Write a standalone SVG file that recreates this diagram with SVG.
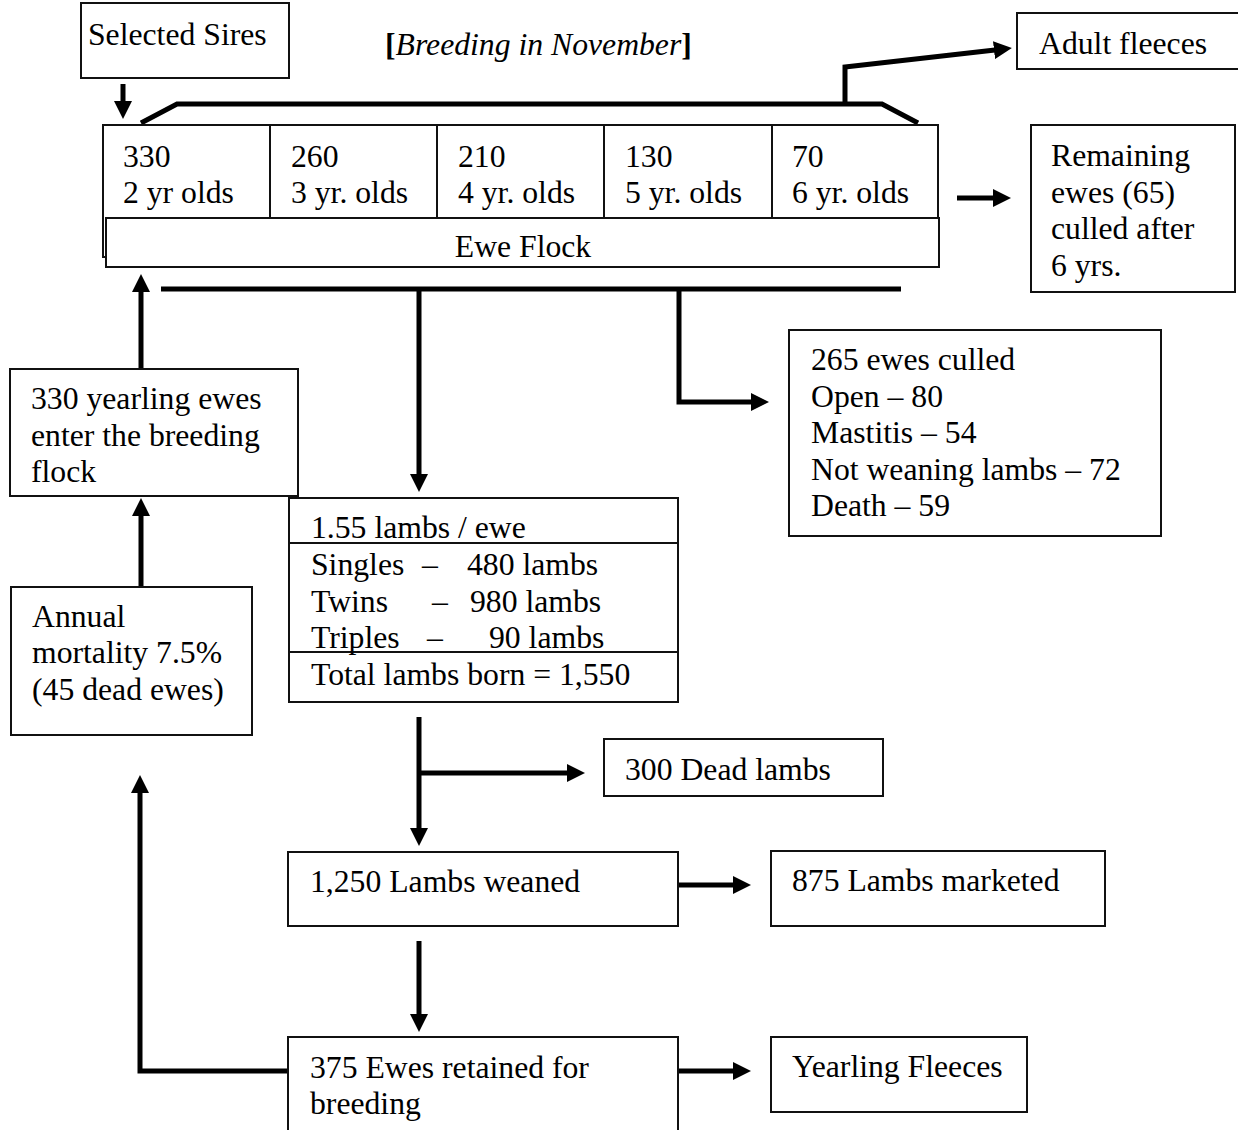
<svg xmlns="http://www.w3.org/2000/svg" width="1238" height="1130" viewBox="0 0 1238 1130">
<defs>
<marker id="ah" viewBox="0 0 18 18" markerWidth="18" markerHeight="18" markerUnits="userSpaceOnUse" refX="1" refY="9" orient="auto">
<path d="M0,0 L18,9 L0,18 Z" fill="#000"/>
</marker>
<style>
text{font-family:"Liberation Serif","Times New Roman",serif;font-size:31.7px;fill:#000}
.box{fill:#fff;stroke:#111;stroke-width:2}
.div{stroke:#111;stroke-width:2;fill:none}
.c{fill:none;stroke:#000;stroke-width:5}
.a{fill:none;stroke:#000;stroke-width:5;marker-end:url(#ah)}
</style>
</defs>
<rect width="1238" height="1130" fill="#fff"/>

<g id="connectors">
<polyline class="c" points="141,123 177,104 882,104 918,123"/>
<polyline class="a" points="845,104 845,67 995,50"/>
<line class="a" x1="123" y1="84" x2="123" y2="102"/>
<line class="a" x1="957" y1="198" x2="994" y2="198"/>
<line class="c" x1="161" y1="289" x2="901" y2="289"/>
<line class="a" x1="419" y1="289" x2="419" y2="475"/>
<polyline class="a" points="679,289 679,402 752,402"/>
<line class="a" x1="141" y1="369" x2="141" y2="291"/>
<line class="a" x1="141" y1="586" x2="141" y2="515"/>
<line class="a" x1="419" y1="717" x2="419" y2="829"/>
<line class="a" x1="419" y1="773" x2="568" y2="773"/>
<line class="a" x1="678" y1="885" x2="734" y2="885"/>
<line class="a" x1="419" y1="941" x2="419" y2="1015"/>
<line class="a" x1="678" y1="1071" x2="734" y2="1071"/>
<polyline class="a" points="288,1071 140,1071 140,792"/>
</g>

<g id="title">
<text x="385" y="55"><tspan font-weight="bold">[</tspan><tspan font-style="italic">Breeding in November</tspan><tspan font-weight="bold">]</tspan></text>
</g>

<g id="sires">
<rect class="box" x="81" y="3" width="208" height="75"/>
<text x="88" y="45">Selected Sires</text>
</g>

<g id="ewe-flock">
<rect class="box" x="103" y="125" width="835" height="132"/>
<line class="div" x1="270" y1="125" x2="270" y2="218"/>
<line class="div" x1="437" y1="125" x2="437" y2="218"/>
<line class="div" x1="604" y1="125" x2="604" y2="218"/>
<line class="div" x1="772" y1="125" x2="772" y2="218"/>
<text x="123" y="167">330</text><text x="123" y="203">2 yr olds</text>
<text x="291" y="167">260</text><text x="291" y="203">3 yr. olds</text>
<text x="458" y="167">210</text><text x="458" y="203">4 yr. olds</text>
<text x="625" y="167">130</text><text x="625" y="203">5 yr. olds</text>
<text x="792" y="167">70</text><text x="792" y="203">6 yr. olds</text>
<rect class="box" x="106" y="218" width="833" height="49"/>
<text x="523" y="257" text-anchor="middle">Ewe Flock</text>
</g>

<g id="adult-fleeces">
<rect class="box" x="1017" y="13" width="230" height="56"/>
<text x="1039" y="54">Adult fleeces</text>
</g>

<g id="remaining">
<rect class="box" x="1031" y="125" width="204" height="167"/>
<text x="1051" y="166">Remaining</text>
<text x="1051" y="203">ewes (65)</text>
<text x="1051" y="239">culled after</text>
<text x="1051" y="276">6 yrs.</text>
</g>

<g id="culled">
<rect class="box" x="789" y="330" width="372" height="206"/>
<text x="811" y="370">265 ewes culled</text>
<text x="811" y="407">Open – 80</text>
<text x="811" y="443">Mastitis – 54</text>
<text x="811" y="480">Not weaning lambs – 72</text>
<text x="811" y="516">Death – 59</text>
</g>

<g id="yearling">
<rect class="box" x="10" y="369" width="288" height="127"/>
<text x="31" y="409">330 yearling ewes</text>
<text x="31" y="446">enter the breeding</text>
<text x="31" y="482">flock</text>
</g>

<g id="mortality">
<rect class="box" x="11" y="587" width="241" height="148"/>
<text x="32" y="627">Annual</text>
<text x="32" y="663">mortality 7.5%</text>
<text x="32" y="700">(45 dead ewes)</text>
</g>

<g id="lambs">
<rect class="box" x="289" y="498" width="389" height="204"/>
<line class="div" x1="289" y1="543" x2="678" y2="543"/>
<line class="div" x1="289" y1="652" x2="678" y2="652"/>
<text x="311" y="538">1.55 lambs / ewe</text>
<text x="311" y="575">Singles</text><text x="422" y="575">–</text><text x="467" y="575">480 lambs</text>
<text x="311" y="612">Twins</text><text x="432" y="612">–</text><text x="470" y="612">980 lambs</text>
<text x="311" y="648">Triples</text><text x="427" y="648">–</text><text x="489" y="648">90 lambs</text>
<text x="311" y="685">Total lambs born = 1,550</text>
</g>

<g id="dead-lambs">
<rect class="box" x="604" y="739" width="279" height="57"/>
<text x="625" y="780">300 Dead lambs</text>
</g>

<g id="weaned">
<rect class="box" x="288" y="852" width="390" height="74"/>
<text x="310" y="892">1,250 Lambs weaned</text>
</g>

<g id="marketed">
<rect class="box" x="771" y="851" width="334" height="75"/>
<text x="792" y="891">875 Lambs marketed</text>
</g>

<g id="retained">
<rect class="box" x="288" y="1037" width="390" height="100"/>
<text x="310" y="1078">375 Ewes retained for</text>
<text x="310" y="1114">breeding</text>
</g>

<g id="yearling-fleeces">
<rect class="box" x="771" y="1037" width="256" height="75"/>
<text x="792" y="1077">Yearling Fleeces</text>
</g>
</svg>
